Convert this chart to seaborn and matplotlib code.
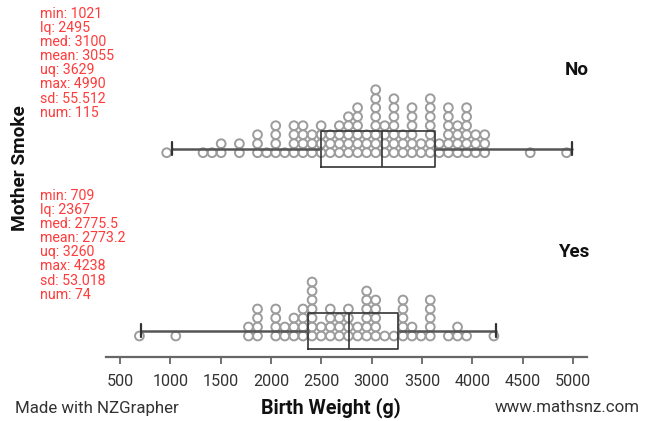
import matplotlib
matplotlib.use("Agg")
import matplotlib.pyplot as plt
import seaborn as sns
import pandas as pd

# dot columns (bin centre in grams, number of stacked dots)
no_bins = [964, 1325, 1415, 1505, 1686, 1866, 1957, 2047, 2137, 2228, 2318,
           2408, 2498, 2589, 2679, 2769, 2860, 2950, 3040, 3130, 3221, 3311,
           3401, 3491, 3582, 3672, 3762, 3853, 3943, 4033, 4123, 4575, 4936]
no_counts = [1, 1, 1, 2, 2, 3, 1, 4, 1, 4, 4, 3, 4, 3, 4, 5, 6, 3, 8, 4, 7, 3,
             6, 2, 7, 2, 6, 4, 6, 3, 3, 1, 1]

yes_bins = [693, 1054, 1776, 1866, 2047, 2137, 2228, 2318, 2408, 2498, 2589,
            2679, 2769, 2860, 2950, 3040, 3130, 3221, 3311, 3401, 3491, 3582,
            3762, 3853, 3943, 4214]
yes_counts = [1, 1, 2, 4, 4, 2, 3, 4, 7, 2, 4, 3, 4, 2, 6, 5, 1, 1, 5, 2, 1, 5,
              1, 2, 1, 1]

groups = ["No", "Yes"]
stat_names = ["min", "lq", "med", "mean", "uq", "max", "sd", "num"]
no_stats = ["1021", "2495", "3100", "3055", "3629", "4990", "55.512", "115"]
yes_stats = ["709", "2367", "2775.5", "2773.2", "3260", "4238", "53.018", "74"]
x_ticks = [500, 1000, 1500, 2000, 2500, 3000, 3500, 4000, 4500, 5000]

# layout (axes y units are pixels measured up from the axis line)
W, H = 657, 421
AX_BOTTOM_PX = 357
ROW_GAP = 9.0
bases = {"No": 204.3, "Yes": 21.0}
box_centres = {"No": 208.5, "Yes": 26.5}
GREY = "#9c9c9c"
RED = "#ff3b3b"


def stack(bins, counts, base):
    rows = []
    for b, c in zip(bins, counts):
        for j in range(c):
            rows.append((b, base + j * ROW_GAP))
    return pd.DataFrame(rows, columns=["x", "y"])


def box_stats(vals, label):
    v = [float(s) for s in vals]
    return dict(whislo=v[0], q1=v[1], med=v[2], q3=v[4], whishi=v[5],
                fliers=[], label=label)


sns.set_style("white")
plt.rcParams["font.family"] = ["Roboto", "DejaVu Sans"]

fig = plt.figure(figsize=(W / 100, H / 100), dpi=100)
ax = fig.add_axes([106 / W, (H - AX_BOTTOM_PX) / H, (587 - 106) / W, AX_BOTTOM_PX / H])
ax.set_xlim(361, 5139)
ax.set_ylim(0, AX_BOTTOM_PX)

for g, bins, counts in [("No", no_bins, no_counts), ("Yes", yes_bins, yes_counts)]:
    df = stack(bins, counts, bases[g])
    sns.scatterplot(data=df, x="x", y="y", ax=ax, s=40, marker="o",
                    linewidth=1.3, legend=False, zorder=2)
for c in ax.collections:
    c.set_facecolor("none")
    c.set_edgecolor(GREY)
    c.set_linewidth(1.4)

stats = [box_stats(no_stats, "No"), box_stats(yes_stats, "Yes")]
ax.bxp(stats, positions=[box_centres["No"], box_centres["Yes"]], widths=36,
       orientation="horizontal", showfliers=False, capwidths=13,
       boxprops=dict(color="#333333", linewidth=1.2),
       medianprops=dict(color="#333333", linewidth=1.2),
       whiskerprops=dict(color="#555555", linewidth=1.8),
       capprops=dict(color="#333333", linewidth=1.6), manage_ticks=False)

ax.set_xticks(x_ticks)
ax.set_yticks([])
ax.set_xlabel("")
ax.set_ylabel("")
for side in ["top", "right", "left"]:
    ax.spines[side].set_visible(False)
ax.spines["bottom"].set_color("#666666")
ax.spines["bottom"].set_linewidth(1.6)
ax.tick_params(axis="x", length=5, width=1.3, color="#666666", labelsize=11.6,
               labelcolor="#333333", pad=7, direction="out", bottom=True)

# group labels
fig.text(589 / W, 1 - 70 / H, "No", ha="right", va="center", fontsize=13.5,
         fontweight="bold", color="#111111")
fig.text(589 / W, 1 - 252 / H, "Yes", ha="right", va="center", fontsize=13.5,
         fontweight="bold", color="#111111")

# summary stats
for top, vals in [(14, no_stats), (196, yes_stats)]:
    for i, (n, v) in enumerate(zip(stat_names, vals)):
        fig.text(40 / W, 1 - (top + i * 14.1) / H, f"{n}: {v}", ha="left",
                 va="center", fontsize=10.2, color=RED)

fig.text(20 / W, 1 - 168 / H, "Mother Smoke", rotation=90, ha="center",
         va="center", fontsize=13.7, fontweight="bold", color="#111111")
fig.text(331 / W, 1 - 408 / H, "Birth Weight (g)", ha="center", va="center",
         fontsize=14.2, fontweight="bold", color="#111111")
fig.text(15 / W, 1 - 408 / H, "Made with NZGrapher", ha="left", va="center",
         fontsize=12.2, color="#333333")
fig.text(640 / W, 1 - 408 / H, "www.mathsnz.com", ha="right", va="center",
         fontsize=12.2, color="#333333")

fig.savefig("out.png", dpi=100)
